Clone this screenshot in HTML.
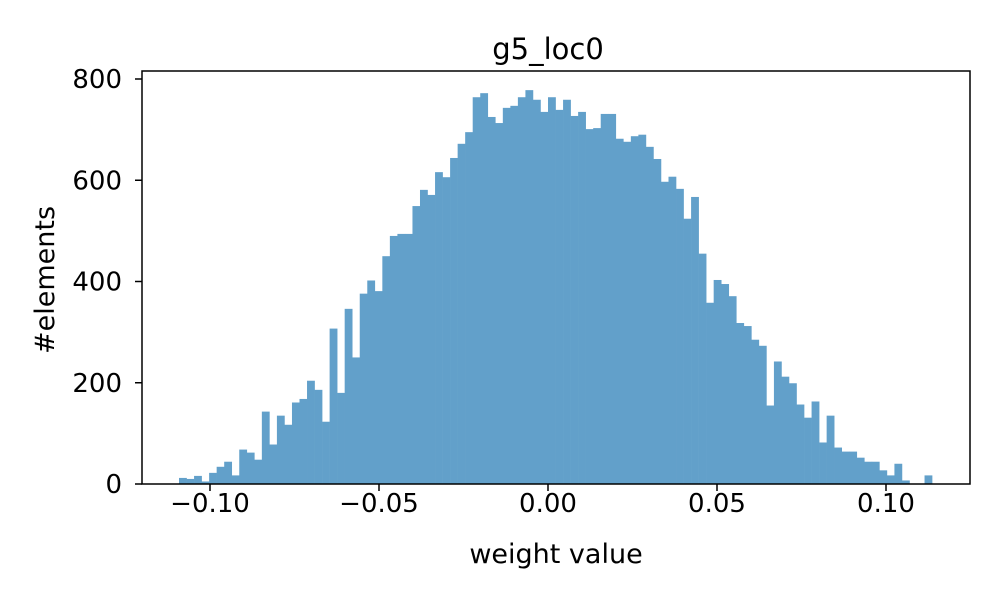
<!DOCTYPE html>
<html><head><meta charset="utf-8"><style>body{margin:0;background:#fff}svg{display:block;font-family:"DejaVu Sans","Liberation Sans",sans-serif}</style></head>
<body>
<svg id="chart" width="1000" height="600">
<rect width="1000" height="600" fill="#fff"/>
<g id="bars"></g>
<g id="axes"></g>
</svg>
<script>
const binStart = -0.10917;
const binWidth = 0.002228;
const counts = [12,10,16,5,22,34,44,17,68,62,48,143,78,135,117,161,168,204,186,123,
307,180,346,250,376,402,381,450,490,494,494,549,581,571,616,606,644,672,695,764,
772,725,713,743,747,764,778,759,735,764,739,759,727,735,701,703,731,731,682,676,
687,690,666,642,597,607,583,524,567,455,358,403,395,371,318,312,285,273,155,242,
212,199,157,131,163,82,135,72,64,64,52,44,44,27,17,40,7,0,0,17];
const xTicks = [-0.10,-0.05,0.00,0.05,0.10];
const xTickLabels = ["\u22120.10","\u22120.05","0.00","0.05","0.10"];
const yTicks = [0,200,400,600,800];

const L=142,R=970,T=71,B=484;
const x = v => 548 + v*3380;
const y = v => 484 - v*0.50625;
const NS="http://www.w3.org/2000/svg";
function mk(tag, attrs, parent){const e=document.createElementNS(NS,tag);for(const k in attrs)e.setAttribute(k,attrs[k]);parent.appendChild(e);return e;}
const bars=document.getElementById('bars'), axes=document.getElementById('axes');
counts.forEach((c,i)=>{
  if(c<=0) return;
  const x0=x(binStart+i*binWidth), x1=x(binStart+(i+1)*binWidth);
  const r=mk('rect',{x:x0,y:y(c),width:x1-x0+0.3,height:B-y(c),fill:'#62a0ca'},bars);
  
  
});
const fr=mk('rect',{x:L,y:T,width:R-L,height:B-T,fill:'none',stroke:'#000','stroke-width':1.5},axes);


xTicks.forEach((v,i)=>{
  const t=mk('line',{x1:x(v),x2:x(v),y1:B,y2:B+7,stroke:'#000','stroke-width':1.5},axes);
  
  
  const l=mk('text',{x:x(v),y:512,'text-anchor':'middle','font-size':26},axes);
  l.textContent=xTickLabels[i];
  
  
});
yTicks.forEach(v=>{
  const t=mk('line',{x1:L-7,x2:L,y1:y(v),y2:y(v),stroke:'#000','stroke-width':1.5},axes);
  
  
  const l=mk('text',{x:L-20,y:y(v)+9,'text-anchor':'end','font-size':26},axes);
  l.textContent=String(v);
  
  
});
const title=mk('text',{x:548,y:59,'text-anchor':'middle','font-size':29},axes);
title.textContent='g5_loc0';


const xl=mk('text',{x:556,y:563,'text-anchor':'middle','font-size':27},axes);
xl.textContent='weight value';


const yl=mk('text',{x:0,y:0,'text-anchor':'middle','font-size':27,transform:'translate(54,280) rotate(-90)'},axes);
yl.textContent='#elements';


</script>
</body></html>
